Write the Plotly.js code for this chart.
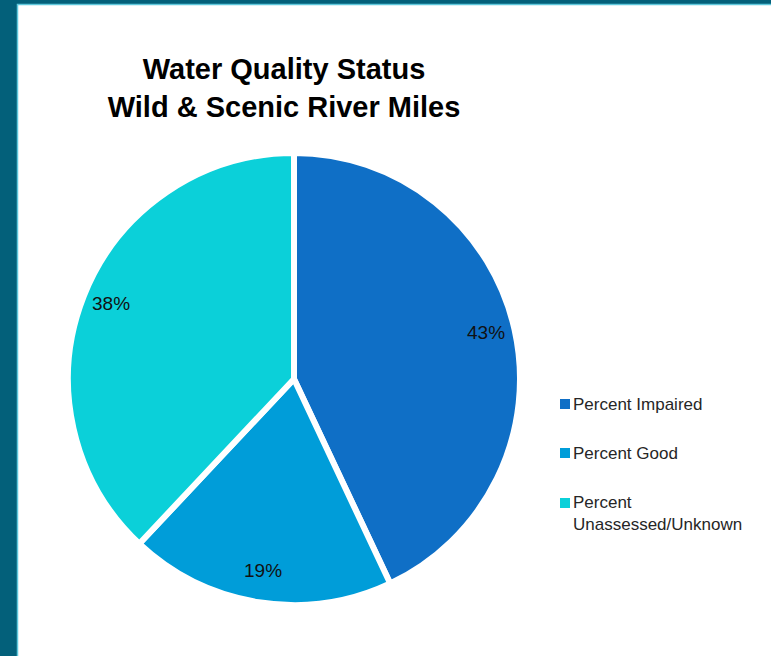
<!DOCTYPE html>
<html>
<head>
<meta charset="utf-8">
<script src="https://cdn.plot.ly/plotly-3.0.1.min.js"></script>
<style>html,body{margin:0;padding:0;background:#03607A;}#chart{width:771px;height:656px;}</style>
</head>
<body>
<div id="chart"></div>
<script>
// ---- data ----
var labels = ['Percent Impaired', 'Percent Good', 'Percent Unassessed/Unknown'];
var values = [43, 19, 38];
var colors = ['#0F6FC6', '#009DD9', '#0BD0D9'];
var titleLines = ['Water Quality Status', 'Wild & Scenic River Miles'];

// ---- geometry (pixels in the 771x656 page) ----
var W = 771, H = 656;
var cx = 294, cy = 379, R = 226;      // pie centre/radius
var labelR = 0.88 * 224;              // radius at which % labels sit

var total = values.reduce(function (a, b) { return a + b; }, 0);

// % labels, placed from the slice mid-angles (clockwise from 12 o'clock)
var annotations = [];
var cum = 0;
values.forEach(function (v) {
  var mid = (cum + v / 2) / total * 2 * Math.PI;
  cum += v;
  var px = cx + labelR * Math.sin(mid);
  var py = cy - labelR * Math.cos(mid) - 3;
  annotations.push({
    xref: 'paper', yref: 'paper', x: px / W, y: 1 - py / H,
    xanchor: 'center', yanchor: 'middle', showarrow: false,
    text: Math.round(v / total * 100) + '%',
    font: {family: 'Liberation Sans, Arial, sans-serif', size: 19, color: '#111111'}
  });
});

// manual legend
function wrap(s) {
  return s.length > 20 ? s.replace(' ', '<br>') : s;
}
var legX = 560, legRows = [404, 453, 503], lineH = 20;
var shapes = [{
  type: 'rect', xref: 'paper', yref: 'paper', layer: 'below',
  x0: 17.5 / W, x1: 1.02, y0: -0.02, y1: 1 - 4.5 / H,
  fillcolor: '#FFFFFF', line: {color: '#5FC8DC', width: 1.5}
}];
labels.forEach(function (lab, i) {
  var yc = legRows[i];
  shapes.push({
    type: 'rect', xref: 'paper', yref: 'paper',
    x0: legX / W, x1: (legX + 10) / W,
    y0: 1 - (yc + 5) / H, y1: 1 - (yc - 5) / H,
    fillcolor: colors[i], line: {width: 0}
  });
  var txt = wrap(lab);
  var nLines = txt.split('<br>').length;
  var yMid = yc + (nLines - 1) * lineH / 2;
  annotations.push({
    xref: 'paper', yref: 'paper', x: (legX + 11) / W, y: 1 - yMid / H,
    xanchor: 'left', yanchor: 'middle', align: 'left', showarrow: false,
    text: txt,
    font: {family: 'Liberation Sans, Arial, sans-serif', size: 17, color: '#262626'}
  });
});

var trace = {
  type: 'pie',
  labels: labels,
  values: values,
  sort: false,
  direction: 'clockwise',
  rotation: 0,
  textinfo: 'none',
  hoverinfo: 'label+percent',
  marker: {colors: colors, line: {color: '#FFFFFF', width: 6}},
  domain: {x: [(cx - R) / W, (cx + R) / W], y: [1 - (cy + R) / H, 1 - (cy - R) / H]},
  showlegend: false
};

var layout = {
  width: W, height: H,
  margin: {l: 0, r: 0, t: 0, b: 0},
  paper_bgcolor: '#03607A',
  showlegend: false,
  title: {
    text: titleLines.join('<br>'),
    x: 284 / W, xanchor: 'center', xref: 'paper',
    y: 1 - 79 / H, yanchor: 'middle', yref: 'container',
    font: {family: 'Liberation Sans, Arial, sans-serif', size: 29, color: '#000000', weight: 'bold'}
  },
  shapes: shapes,
  annotations: annotations
};

Plotly.newPlot('chart', [trace], layout, {displayModeBar: false, staticPlot: true});
</script>
</body>
</html>
